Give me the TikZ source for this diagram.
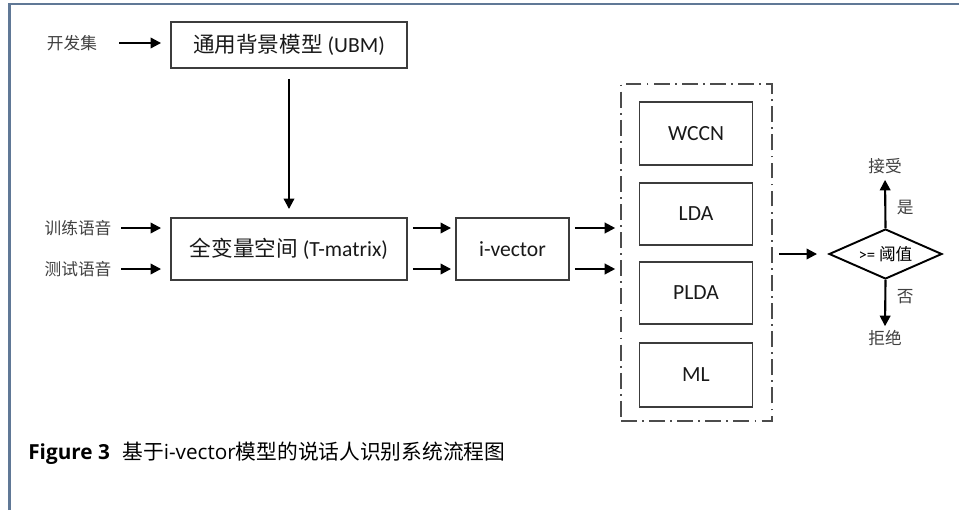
\documentclass[tikz,border=0pt]{standalone}
\usepackage{fontspec}
\setmainfont{Carlito}
\newfontfamily\cjk{Noto Sans CJK SC}
\newfontfamily\capfont{Open Sans}
\usetikzlibrary{arrows.meta,shapes.geometric,positioning,calc}
\definecolor{framecol}{RGB}{96,120,150}
\definecolor{boxcol}{RGB}{60,60,60}
\newcommand{\zh}[1]{{\cjk #1}}

\tikzset{
  blk/.style={draw=boxcol, line width=1.1pt, font=\fontsize{12.3pt}{14pt}\selectfont, text=black!90, inner sep=0pt},
  lbl/.style={font=\cjk\fontsize{9.5pt}{11pt}\selectfont, text=black!75, inner sep=1pt},
  arr/.style={-{Triangle[length=6pt,width=6pt]}, line width=1.2pt},
  group/.style={draw=black!70, line width=0.9pt, dash pattern=on 9pt off 3pt on 1pt off 3pt, inner sep=0pt},
}

\begin{document}
\begin{tikzpicture}[x=0.02cm, y=-0.02cm]
\useasboundingbox (0,0) rectangle (959,510);
% frame
\draw[framecol, line width=1.2pt] (9.5,510) -- (9.5,4) -- (959,4);

% inputs
\node[lbl] (dev) at (72,43) {开发集};
\node[lbl] (trn) at (78,228) {训练语音};
\node[lbl] (tst) at (78,269) {测试语音};

% models
\node[blk, minimum width=4.72cm, minimum height=0.92cm] (ubm) at (289,45) {\zh{通用背景模型} (UBM)};
\node[blk, minimum width=4.72cm, minimum height=1.24cm] (tm) at (289,249) {\zh{全变量空间} (T-matrix)};
\node[blk, minimum width=2.26cm, minimum height=1.24cm] (iv) at (512.5,249) {i-vector};

% back ends
\node[group, minimum width=3.02cm, minimum height=6.74cm] (be) at (696.5,252.5) {};
\node[blk, minimum width=2.26cm, minimum height=1.26cm] (wccn) at (696,133.5) {WCCN};
\node[blk, minimum width=2.26cm, minimum height=1.24cm] (lda) at (696,214) {LDA};
\node[blk, minimum width=2.26cm, minimum height=1.24cm] (plda) at (696,293) {PLDA};
\node[blk, minimum width=2.26cm, minimum height=1.28cm] (ml) at (696,375) {ML};

% decision
\node[draw=black, line width=1.1pt, diamond, aspect=2.26, inner sep=0pt,
      minimum width=2.26cm, minimum height=1cm,
      font=\fontsize{9.5pt}{10pt}\selectfont] (dec) at (885.5,254) {>= \zh{阈值}};
\node[lbl] (acc) at (885,166) {接受};
\node[lbl] (rej) at (885,338) {拒绝};

% arrows
\draw[arr, shorten <=0.4cm, shorten >=0.18cm] (dev.east) -- (dev.east -| ubm.west);
\draw[arr, shorten <=0.2cm, shorten >=0.16cm] (ubm.south) -- (tm.north);
\draw[arr, shorten <=0.16cm, shorten >=0.18cm] (trn.east) -- (trn.east -| tm.west);
\draw[arr, shorten <=0.16cm, shorten >=0.18cm] (tst.east) -- (tst.east -| tm.west);
\foreach \src in {trn,tst}{
  \draw[arr, shorten <=0.1cm, shorten >=0.08cm] (tm.east |- \src) -- (iv.west |- \src);
  \draw[arr, shorten <=0.1cm, shorten >=0.1cm] (iv.east |- \src) -- (be.west |- \src);
}
\draw[arr, shorten <=0.12cm, shorten >=0.22cm] (be.east |- dec) -- (dec.west);
\draw[arr, shorten >=0.08cm] (dec.north) -- node[lbl, pos=0.4, right=5pt] {是} (acc.south);
\draw[arr, shorten >=0.04cm] (dec.south) -- node[lbl, pos=0.35, right=5pt] {否} (rej.north);

% caption
\node[anchor=west, inner sep=0pt, font=\capfont\fontsize{11.8pt}{13pt}\selectfont] (cap) at (28,453)
  {\textbf{Figure 3}\hspace{0.6em}\zh{基于}i-vector\zh{模型的说话人识别系统流程图}};
\end{tikzpicture}
\end{document}
